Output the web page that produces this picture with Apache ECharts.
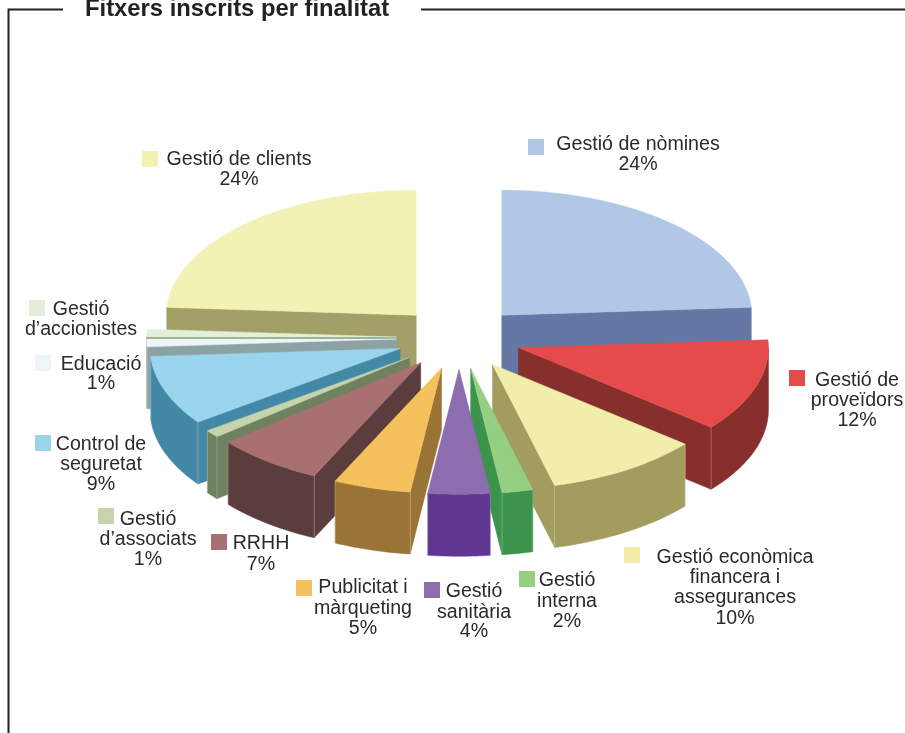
<!DOCTYPE html>
<html>
<head>
<meta charset="utf-8">
<style>html,body{margin:0;padding:0;background:#fff}#c{width:905px;height:733px}</style>
<script src="https://cdn.jsdelivr.net/npm/echarts@6/dist/echarts.min.js"></script>
</head>
<body>
<div id="c"></div>
<script>
// Data, clockwise from 12 o'clock
const categories = ['Gestió de nòmines','Gestió de proveïdors','Gestió econòmica financera i assegurances','Gestió interna','Gestió sanitària','Publicitat i màrqueting','RRHH','Gestió d’associats','Control de seguretat','Educació','Gestió d’accionistes','Gestió de clients'];
const values = [24,12,10,2,4,5,7,1,9,1,1,24];
const labelLines = [
  ['Gestió de nòmines','24%'],
  ['Gestió de','proveïdors','12%'],
  ['Gestió econòmica','financera i','assegurances','10%'],
  ['Gestió','interna','2%'],
  ['Gestió','sanitària','4%'],
  ['Publicitat i','màrqueting','5%'],
  ['RRHH','7%'],
  ['Gestió','d’associats','1%'],
  ['Control de','seguretat','9%'],
  ['Educació','1%'],
  ['Gestió','d’accionistes'],
  ['Gestió de clients','24%']
];
const topColors = ['#b0c7e6','#e54b4b','#f1edab','#96ce82','#8d6cb0','#f4c15c','#a97072','#c5d4aa','#9bd4ed','#ecf5f7','#e4efda','#f3f2b5'];
const sideColors = ['#6477a5','#872f2d','#a29c5e','#3b934c','#5f3792','#9a7336','#5c3d3e','#708160','#4389a7','#8da2a4','#84a078','#a2a066'];

// Layout of the drawing (not data)
const PIE = {cx:459, cy:338, rx:250, ry:125, depth:62, explode:0.25};
const LABEL_POS = [
  {sx:528,sy:139,cx:638,y:[145,165]},
  {sx:789,sy:370,cx:857,y:[381,401,421]},
  {sx:624,sy:547,cx:735,y:[558,578,598,619]},
  {sx:519,sy:571,cx:567,y:[581,602,622]},
  {sx:424,sy:582,cx:474,y:[592,613,632]},
  {sx:296,sy:580,cx:363,y:[588,609,629]},
  {sx:211,sy:534,cx:261,y:[544,565]},
  {sx:98,sy:508,cx:148,y:[520,540,560]},
  {sx:35,sy:435,cx:101,y:[445,465,485]},
  {sx:35,sy:355,cx:101,y:[365,384]},
  {sx:29,sy:300,cx:81,y:[310,330]},
  {sx:142,sy:151,cx:239,y:[160,180]}
];

const total = values.reduce((a,b)=>a+b,0);
const rad = v => v/total*Math.PI*2;
const startAngles = [];
values.reduce((acc,v,i)=>{startAngles[i]=acc;return acc+rad(v);},0);

// paint order: from back of the pie to the front
const order = values.map((v,i)=>i).sort((a,b)=>
  Math.cos(startAngles[b]+rad(values[b])/2)-Math.cos(startAngles[a]+rad(values[a])/2));
const rows = order.map(i=>[values[i],i]);

function renderSlice(params, api){
  const i = api.value(1), a0 = startAngles[i], a1 = a0+rad(api.value(0)), mid=(a0+a1)/2;
  const ax = PIE.cx+PIE.explode*PIE.rx*Math.sin(mid);
  const ay = PIE.cy-PIE.explode*PIE.ry*Math.cos(mid);
  const pt = (a,dy)=>[ax+PIE.rx*Math.sin(a), ay-PIE.ry*Math.cos(a)+(dy||0)];
  const arc = (from,to,dy)=>{
    const n=Math.max(2,Math.ceil((to-from)/0.02)), out=[];
    for(let k=0;k<=n;k++) out.push(pt(from+(to-from)*k/n,dy));
    return out;
  };
  const side = sideColors[i], top = topColors[i], d = PIE.depth;
  const face = pts => ({type:'polygon',shape:{points:pts},style:{fill:side,stroke:side,lineWidth:0.5}});
  const children = [];
  // only the cut faces that look towards the viewer
  if(a0>Math.PI) children.push(face([[ax,ay],pt(a0),pt(a0,d),[ax,ay+d]]));
  if(a1<Math.PI) children.push(face([[ax,ay],pt(a1),pt(a1,d),[ax,ay+d]]));
  const w0=Math.max(a0,Math.PI/2), w1=Math.min(a1,Math.PI*1.5);
  if(w1>w0){
    children.push(face(arc(w0,w1,0).concat(arc(w0,w1,d).reverse())));
    [a0,a1].forEach(a=>{
      if(a>Math.PI/2 && a<Math.PI*1.5 && Math.abs(Math.sin(a))>0.1){
        const p=pt(a),q=pt(a,d);
        children.push({type:'line',shape:{x1:p[0],y1:p[1],x2:q[0],y2:q[1]},style:{stroke:'#ffffff',opacity:0.25,lineWidth:1}});
      }
    });
  }
  children.push({type:'polygon',shape:{points:[[ax,ay]].concat(arc(a0,a1,0))},
    style:{fill:top,stroke:top,lineWidth:0.5}});
  const pos = LABEL_POS[i];
  children.push({type:'rect',z2:50,shape:{x:pos.sx,y:pos.sy,width:16,height:16},style:{fill:top}});
  labelLines[i].forEach((t,k)=>{
    children.push({type:'text',z2:50,x:pos.cx,y:pos.y[k],
      style:{text:t,font:'19.6px "Liberation Sans", Arial, sans-serif',fill:'#2b2a2b',textAlign:'center',textVerticalAlign:'middle',verticalAlign:'middle'}});
  });
  return {type:'group',children};
}

const chart = echarts.init(document.getElementById('c'),null,{renderer:'canvas'});
chart.setOption({
  animation:false,
  backgroundColor:'#ffffff',
  title:{text:'Fitxers inscrits per finalitat',left:85,top:-3,padding:0,
    textStyle:{fontFamily:'"Liberation Sans", Arial, sans-serif',fontWeight:'bold',fontSize:23.8,color:'#232223'}},
  graphic:[
    {type:'polyline',silent:true,shape:{points:[[63,9.5],[8.5,9.5],[8.5,733]]},style:{fill:null,stroke:'#232223',lineWidth:2}},
    {type:'line',silent:true,shape:{x1:421,y1:9.5,x2:905,y2:9.5},style:{stroke:'#232223',lineWidth:2}}
  ],
  series:[{type:'custom',coordinateSystem:'none',silent:true,clip:false,renderItem:renderSlice,data:rows,
    encode:{itemName:-1}}]
});
</script>
</body>
</html>
